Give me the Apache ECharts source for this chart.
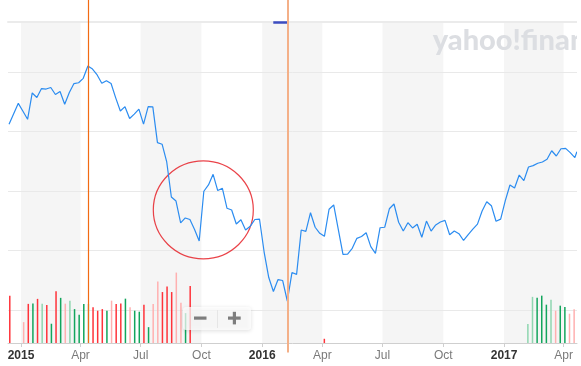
<!DOCTYPE html>
<html><head><meta charset="utf-8">
<script src="https://cdn.jsdelivr.net/npm/echarts@6/dist/echarts.min.js"></script>
<style>html,body{margin:0;padding:0;background:#fff}#c{width:581px;height:366px}</style>
</head><body><div id="c"></div>
<script>
const N = null;
// weekly closing prices (arbitrary price units), weeks starting Mon 2014-12-15
const weeklyCloses = [
 45.61,46.49,47.37,46.70,46.03,48.24,47.86,48.61,48.57,48.70,
 48.11,48.36,47.29,48.28,49.03,49.10,49.47,50.50,50.25,49.75,
 49.05,49.27,49.03,47.83,46.73,47.09,46.10,46.46,46.88,45.62,
 47.09,47.07,44.07,43.94,42.45,39.51,39.17,37.33,37.75,37.62,
 36.78,35.82,39.99,40.52,41.41,40.05,40.24,38.56,38.42,37.24,
 37.60,36.74,37.05,37.62,37.66,34.89,32.75,31.58,32.58,32.50,
 30.78,33.17,33.02,36.74,36.63,38.19,36.97,36.46,36.21,38.48,
 38.84,36.78,34.70,34.71,35.20,36.04,36.19,36.51,35.34,34.78,
 36.93,36.97,38.52,38.92,37.39,36.65,37.35,36.91,37.22,36.13,
 37.49,36.65,37.16,37.41,37.55,36.34,36.65,36.43,35.86,36.36,
 36.81,37.23,38.33,39.11,38.78,37.47,37.65,39.21,40.52,40.26,
 41.35,40.88,42.03,42.14,42.34,42.45,42.68,43.39,42.95,43.56,
 43.59,43.23,42.81,43.31
];
// weekly volume (millions), null where no bar is shown
const weeklyVolumes = [
 23.6,N,N,10.4,19.5,19.7,22.0,19.6,19.0,9.6,
 25.8,22.5,19.6,21.1,16.9,14.1,19.5,19.5,17.8,16.1,
 16.9,16.1,21.1,19.5,19.7,22.1,17.8,16.1,15.6,19.1,
 7.9,19.5,30.7,25.4,28.1,25.4,35.1,20.1,14.9,28.4,
 N,N,N,N,N,N,N,N,N,N,
 N,N,N,N,N,N,N,N,N,N,
 N,N,N,N,N,N,N,N,2.1,N,
 N,N,N,N,N,N,N,N,N,N,
 N,N,N,N,N,N,N,N,N,N,
 N,N,N,N,N,N,N,N,N,N,
 N,N,N,N,N,N,N,N,N,N,
 N,N,9.5,23.0,22.5,23.6,19.1,21.6,16.1,18.6,
 18.0,14.6,16.8,N
];
// 1 = week closed above its open, 0 = below
const candleUp = [
 0,N,N,1,0,1,0,0,0,1,
 0,1,1,0,1,1,1,0,0,0,
 0,1,1,0,0,1,1,1,1,0,
 1,1,1,0,0,0,1,1,1,0,
 N,N,N,N,N,N,N,N,N,N,
 N,N,N,N,N,N,N,N,N,N,
 N,N,N,N,N,N,N,N,0,N,
 N,N,N,N,N,N,N,N,N,N,
 N,N,N,N,N,N,N,N,N,N,
 N,N,N,N,N,N,N,N,N,N,
 N,N,N,N,N,N,N,N,N,N,
 N,N,0,0,1,1,1,0,1,1,
 1,1,1,N
];
const firstWeek = '2014-12-15';
const lastQuoteDate = '2017-04-20';
const axisStart = '2014-12-13 10:30';
const axisEnd = '2017-04-20 05:00';
const shadedQuarters = [
 ['2015-01-01','2015-04-01'],['2015-07-01','2015-10-01'],
 ['2016-01-01','2016-04-01'],['2016-07-01','2016-10-01'],
 ['2017-01-01','2017-04-01']
];
const eventPeak = '2015-04-13';
const eventTrough = '2016-02-08';
const markerRange = ['2016-01-17 18:00','2016-02-08'];
const circledPoint = ['2015-10-04 05:00', 38.43];
const monthNames = ['Jan','Feb','Mar','Apr','May','Jun','Jul','Aug','Sep','Oct','Nov','Dec'];

const DAY = 86400000;
const d0 = echarts.time.parse(firstWeek);
const dates = weeklyCloses.map((_, i) =>
  i === weeklyCloses.length - 1 ? echarts.time.parse(lastQuoteDate).getTime()
  : new Date(d0.getFullYear(), d0.getMonth(), d0.getDate() + 7 * i).getTime());

const RED = '#ff333a', PINK = '#ffb0b0', GREEN = '#12a55c', LGREEN = '#8fd6b0';
const volData = [];
weeklyVolumes.forEach((v, i) => {
  if (v == null) return;
  const prev = i > 0 ? weeklyCloses[i - 1] : weeklyCloses[i];
  const up = weeklyCloses[i] > prev;
  const strong = up ? candleUp[i] === 1 : candleUp[i] === 0;
  volData.push({ value: [dates[i], v], itemStyle: { color: up ? (strong ? GREEN : LGREEN) : (strong ? RED : PINK) } });
});
const priceData = weeklyCloses.map((c, i) => [dates[i], c]);

const L = 8, R = 4;
const FONT = 'Liberation Sans, Arial, sans-serif';
const timeAxisBase = { type: 'time', min: axisStart, max: axisEnd };
const chart = echarts.init(document.getElementById('c'), null, { renderer: 'canvas' });
chart.setOption({
  animation: false,
  grid: [
    { left: L, right: R, top: 22, bottom: 23 },
    { left: L, right: R, top: 72, bottom: 55.7 },
    { left: L, right: R, top: 0, bottom: 23 },
    { left: L, right: R, top: 0, bottom: 13.5 }
  ],
  xAxis: [
    Object.assign({}, timeAxisBase, {
      gridIndex: 0,
      minInterval: 90 * DAY, maxInterval: 92 * DAY,
      axisLine: { lineStyle: { color: '#cfcfcf', width: 1 } },
      axisTick: { show: true, length: 4, lineStyle: { color: '#cfcfcf' } },
      splitLine: { show: false },
      axisLabel: {
        margin: 7, fontSize: 12, fontFamily: FONT,
        hideOverlap: false, showMinLabel: false, showMaxLabel: false,
        formatter: (val) => {
          const d = new Date(val);
          if (d.getDate() !== 1 || d.getHours() !== 0) return '';
          return d.getMonth() === 0 ? '{y|' + d.getFullYear() + '}' : '{m|' + monthNames[d.getMonth()] + '}';
        },
        rich: {
          y: { color: '#333', fontWeight: 'bold', fontSize: 12, fontFamily: FONT },
          m: { color: '#7a7a7a', fontSize: 12, fontFamily: FONT }
        }
      }
    }),
    Object.assign({}, timeAxisBase, {
      gridIndex: 0, position: 'top',
      axisLine: { lineStyle: { color: '#ebebeb', width: 2 } },
      axisTick: { show: false }, axisLabel: { show: false }, splitLine: { show: false }
    }),
    Object.assign({}, timeAxisBase, { gridIndex: 1, show: false }),
    Object.assign({}, timeAxisBase, { gridIndex: 2, show: false }),
    Object.assign({}, timeAxisBase, { gridIndex: 3, show: false })
  ],
  yAxis: [
    { gridIndex: 0, type: 'value', min: 0, max: 160, show: false },
    { gridIndex: 1, type: 'value', min: 30, max: 50, interval: 5,
      axisLine: { show: false }, axisTick: { show: false }, axisLabel: { show: false },
      splitLine: { show: true, lineStyle: { color: '#e9e9e9', width: 1 } } },
    { gridIndex: 2, type: 'value', min: 0, max: 1, show: false },
    { gridIndex: 3, type: 'value', min: 0, max: 1, show: false }
  ],
  series: [
    { type: 'line', xAxisIndex: 0, yAxisIndex: 0, z: -2, data: [[axisStart, 0]], showSymbol: false,
      lineStyle: { opacity: 0 }, silent: true,
      markArea: { silent: true, z: -2, itemStyle: { color: '#f5f5f5' },
        data: shadedQuarters.map(q => [{ xAxis: q[0] }, { xAxis: q[1] }]) } },
    { type: 'bar', xAxisIndex: 0, yAxisIndex: 0, barWidth: 1.5, data: volData, silent: true,
      markLine: { silent: true, symbol: ['none','none'], label: { show: false },
        lineStyle: { color: '#3b4cc0', width: 2.5, type: 'solid' },
        data: [[{ coord: [markerRange[0], 160] }, { coord: [markerRange[1], 160] }]] } },
    { type: 'line', xAxisIndex: 2, yAxisIndex: 1, data: priceData, showSymbol: false, clip: false,
      lineStyle: { color: '#2b8cf0', width: 1.2 }, silent: true },
    { type: 'scatter', xAxisIndex: 2, yAxisIndex: 1, data: [circledPoint], symbol: 'circle',
      symbolSize: [100, 98], clip: false, silent: true,
      itemStyle: { color: 'rgba(0,0,0,0)', borderColor: '#e5141b', borderWidth: 1.2 } },
    { type: 'line', xAxisIndex: 3, yAxisIndex: 2, data: [[axisStart, 0]], showSymbol: false,
      lineStyle: { opacity: 0 }, silent: true,
      markLine: { silent: true, symbol: ['none','none'], label: { show: false },
        lineStyle: { color: '#f26b13', width: 1.2, type: 'solid' }, data: [{ xAxis: eventPeak }] } },
    { type: 'line', xAxisIndex: 4, yAxisIndex: 3, data: [[axisStart, 0]], showSymbol: false,
      lineStyle: { opacity: 0 }, silent: true,
      markLine: { silent: true, symbol: ['none','none'], label: { show: false },
        lineStyle: { color: '#f4b088', width: 2, type: 'solid' }, data: [{ xAxis: eventTrough }] } }
  ],
  graphic: { elements: [
    { type: 'text', x: 432.7, y: 41, z: 5, silent: true,
      style: { text: 'yahoo!finance', fill: '#dcdee2', font: '900 29px Lato, sans-serif', verticalAlign: 'middle' } },
    { type: 'rect', z: 10, silent: true, shape: { x: 577, y: 0, width: 4, height: 343 }, style: { fill: '#fff' } },
    { type: 'group', z: 10, silent: true, children: [
      { type: 'rect', z: 10, shape: { x: 183, y: 307, width: 68, height: 23, r: 3 },
        style: { fill: 'rgba(255,255,255,0.72)', shadowBlur: 4, shadowColor: 'rgba(0,0,0,0.18)', shadowOffsetY: 1 } },
      { type: 'rect', z: 11, shape: { x: 217, y: 310, width: 1, height: 18 }, style: { fill: '#e6e6e6' } },
      { type: 'rect', z: 11, shape: { x: 194, y: 316.5, width: 12.5, height: 3.2 }, style: { fill: '#7d7d7d' } },
      { type: 'rect', z: 11, shape: { x: 228, y: 316.5, width: 12.7, height: 3.2 }, style: { fill: '#7d7d7d' } },
      { type: 'rect', z: 11, shape: { x: 232.8, y: 311.8, width: 3.2, height: 12.6 }, style: { fill: '#7d7d7d' } }
    ] }
  ] }
});
</script></body></html>
